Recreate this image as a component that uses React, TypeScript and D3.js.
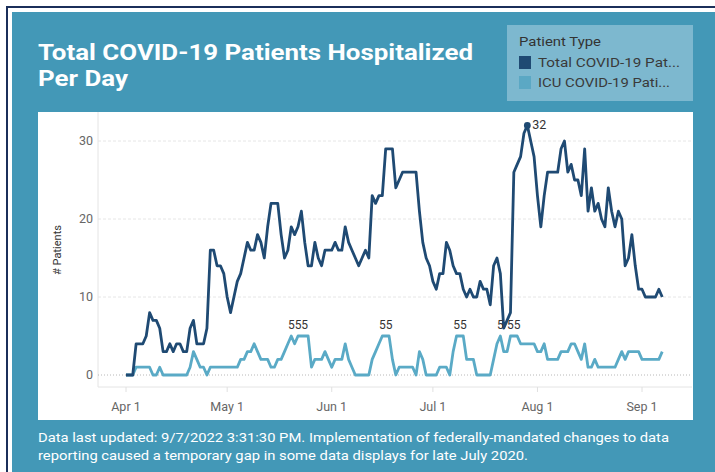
import React from "react";
import * as d3 from "d3";

// daily counts starting Apr 1 2020
const startDate = new Date(2020, 3, 1);

const totalPatients = [
  0, 0, 0, 4, 4, 4, 5, 8, 7, 7, 6, 3, 3, 4, 3, 4, 4, 3, 3, 6,
  7, 4, 4, 4, 6, 16, 16, 14, 14, 13, 10, 8, 10, 12, 13, 15, 17, 16, 16, 18,
  17, 15, 19, 22, 22, 22, 18, 15, 16, 19, 18, 19, 21, 17, 14, 14, 17, 15, 14, 16,
  16, 16, 17, 16, 16, 19, 17, 16, 15, 14, 15, 16, 15, 23, 22, 23, 23, 29, 29, 29,
  24, 25, 26, 26, 26, 26, 26, 21, 17, 15, 14, 12, 11, 13, 13, 17, 16, 14, 13, 13,
  11, 10, 11, 10, 10, 12, 11, 11, 9, 14, 15, 13, 6, 7, 8, 26, 27, 28, 31, 32,
  30, 28, 23, 19, 23, 26, 26, 26, 26, 29, 30, 26, 27, 25, 25, 23, 29, 21, 24, 21,
  22, 20, 19, 24, 21, 19, 21, 20, 14, 15, 18, 14, 11, 11, 10, 10, 10, 10, 11, 10,
];

const icuPatients = [
  0, 0, 0, 1, 1, 1, 1, 1, 0, 0, 1, 0, 0, 0, 0, 0, 0, 0, 0, 1,
  3, 2, 1, 1, 0, 1, 1, 1, 1, 1, 1, 1, 1, 1, 2, 2, 3, 3, 4, 3,
  2, 2, 2, 1, 1, 2, 2, 3, 4, 5, 4, 5, 5, 5, 5, 1, 2, 2, 2, 3,
  2, 1, 2, 2, 2, 4, 2, 1, 0, 0, 0, 0, 0, 2, 3, 4, 5, 5, 5, 2,
  0, 1, 1, 1, 1, 1, 0, 3, 2, 0, 0, 0, 0, 1, 1, 1, 0, 3, 5, 5,
  5, 2, 2, 2, 0, 0, 0, 0, 0, 2, 4, 5, 3, 3, 5, 5, 5, 4, 4, 4,
  4, 4, 3, 3, 4, 2, 2, 2, 2, 3, 3, 3, 4, 4, 3, 2, 4, 1, 1, 2,
  1, 1, 1, 1, 1, 1, 2, 3, 2, 3, 3, 3, 3, 2, 2, 2, 2, 2, 2, 3,
];

const yTicks = [0, 10, 20, 30];
const monthTicks = [
  new Date(2020, 3, 1),
  new Date(2020, 4, 1),
  new Date(2020, 5, 1),
  new Date(2020, 6, 1),
  new Date(2020, 7, 1),
  new Date(2020, 8, 1),
];
const seriesNames = ["Total COVID-19 Pat...", "ICU COVID-19 Pati..."];
const seriesColors = ["#1f4a73", "#5aaac6"];
const titleLines = ["Total COVID-19 Patients Hospitalized", "Per Day"];
const footerLines = [
  "Data last updated: 9/7/2022 3:31:30 PM. Implementation of federally-mandated changes to data",
  "reporting caused a temporary gap in some data displays for late July 2020.",
];

const App = () => {
  const font = "Roboto, 'Noto Sans', sans-serif";
  const x = d3
    .scaleTime()
    .domain([monthTicks[0], monthTicks[5]])
    .range([126, 642]);
  const y = d3.scaleLinear().domain([0, 30]).range([375, 141]);

  const rows = totalPatients.map((t, i) => ({
    date: d3.timeDay.offset(startDate, i),
    total: t,
    icu: icuPatients[i],
  }));

  const totalLine = d3
    .line<any>()
    .x((d) => x(d.date))
    .y((d) => y(d.total));
  const icuLine = d3
    .line<any>()
    .x((d) => x(d.date))
    .y((d) => y(d.icu));

  // labels on the icu peaks, skipping neighbours that would collide
  const icuLabels: any[] = [];
  let last = -10;
  rows.forEach((r, i) => {
    if (r.icu === 5 && i - last >= 2) {
      icuLabels.push(r);
      last = i;
    }
  });

  const peak = rows[d3.maxIndex(rows, (r) => r.total)];
  const fmt = d3.timeFormat("%b %-d");

  return (
    <div style={{ position: "absolute", left: 0, top: 0 }}>
      <svg width={715} height={472} style={{ display: "block" }}>
        <rect x={0} y={0} width={715} height={472} fill="#ffffff" />
        <rect x={7} y={7} width={720} height={480} fill="none" stroke="#1b2f5a" strokeWidth={2} />
        <rect x={12} y={12} width={703} height={460} fill="#4398b7" />

        {titleLines.map((t, i) => (
          <text
            key={t}
            x={38}
            y={60 + i * 26}
            fill="#ffffff"
            fontFamily={font}
            fontWeight={700}
            fontSize={22}
            textLength={i === 0 ? 435 : 90}
            lengthAdjust="spacingAndGlyphs"
          >
            {t}
          </text>
        ))}

        {/* legend */}
        <rect x={507} y={25} width={186} height={76} fill="#7db8cf" />
        <text
          x={519}
          y={46}
          fontFamily={font}
          fontSize={12.5}
          fill="#333333"
          textLength={82}
          lengthAdjust="spacingAndGlyphs"
        >
          Patient Type
        </text>
        {seriesNames.map((n, i) => (
          <g key={n} transform={`translate(519,${56 + i * 20})`}>
            <rect width={12} height={13} fill={i === 0 ? seriesColors[0] : "#5ba8c4"} />
            <text
              x={19}
              y={11}
              fontFamily={font}
              fontSize={12.5}
              fill="#3a3a3a"
              textLength={i === 0 ? 142 : 132}
              lengthAdjust="spacingAndGlyphs"
            >
              {n}
            </text>
          </g>
        ))}

        {/* chart panel */}
        <rect x={38} y={112} width={655} height={308} fill="#ffffff" />
        <line x1={98} x2={98} y1={112} y2={387} stroke="#e4e4e4" />
        <line x1={98} x2={692} y1={387} y2={387} stroke="#e4e4e4" />
        {yTicks.map((t) => (
          <g key={t}>
            {t === 0 ? (
              <line x1={98} x2={692} y1={y(t)} y2={y(t)} stroke="#b8b8b8" strokeDasharray="1,2" />
            ) : (
              <line x1={98} x2={692} y1={y(t)} y2={y(t)} stroke="#e6e6e6" strokeDasharray="3,2" />
            )}
            <text
              x={93}
              y={y(t) + 4}
              textAnchor="end"
              fontFamily={font}
              fontSize={12.5}
              fill="#666666"
            >
              {t}
            </text>
          </g>
        ))}
        <text
          transform="translate(61,250) rotate(-90)"
          textAnchor="middle"
          fontFamily={font}
          fontSize={11}
          fill="#333333"
        >
          # Patients
        </text>
        {monthTicks.map((m) => (
          <g key={m.getTime()}>
            <line x1={x(m)} x2={x(m)} y1={387} y2={392} stroke="#e0e0e0" />
            <text
              x={x(m)}
              y={411}
              textAnchor="middle"
              fontFamily={font}
              fontSize={12.5}
              fill="#666666"
            >
              {fmt(m)}
            </text>
          </g>
        ))}

        <path
          d={icuLine(rows) || ""}
          fill="none"
          stroke={seriesColors[1]}
          strokeWidth={2.8}
          strokeLinejoin="round"
        />
        <path
          d={totalLine(rows) || ""}
          fill="none"
          stroke={seriesColors[0]}
          strokeWidth={2.8}
          strokeLinejoin="round"
        />

        {icuLabels.map((r) => (
          <text
            key={r.date.getTime()}
            x={x(r.date)}
            y={y(r.icu) - 7}
            textAnchor="middle"
            fontFamily={font}
            fontSize={12}
            fill="#333333"
          >
            {r.icu}
          </text>
        ))}
        <circle cx={x(peak.date)} cy={y(peak.total)} r={3.4} fill={seriesColors[0]} />
        <text
          x={x(peak.date) + 5}
          y={y(peak.total) + 4}
          fontFamily={font}
          fontSize={12.5}
          fill="#333333"
        >
          {peak.total}
        </text>

        {footerLines.map((t, i) => (
          <text
            key={i}
            x={38}
            y={442 + i * 18}
            fill="#ffffff"
            fontFamily={font}
            fontSize={13}
            textLength={i === 0 ? 631 : 490}
            lengthAdjust="spacingAndGlyphs"
          >
            {t}
          </text>
        ))}
      </svg>
    </div>
  );
};

export default App;
